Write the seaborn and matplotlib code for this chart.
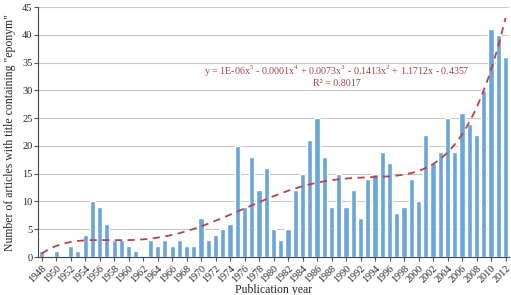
import numpy as np
import pandas as pd
import matplotlib
matplotlib.use("Agg")
import matplotlib.pyplot as plt
import seaborn as sns

years = list(range(1948, 2013))
counts = [1, 0, 1, 0, 2, 1, 4, 10, 9, 6, 3, 3, 2, 1, 0, 3, 2, 3, 2, 3, 2, 2,
          7, 3, 4, 5, 6, 20, 9, 18, 12, 16, 5, 3, 5, 12, 15, 21, 25, 18, 9,
          15, 9, 12, 7, 14, 15, 19, 17, 8, 9, 14, 10, 22, 17, 19, 25, 19,
          26, 24, 22, 30, 41, 40, 36]
eq_text = "y = 1E-06x$^5$ - 0.0001x$^4$ + 0.0073x$^3$ - 0.1413x$^2$ + 1.1712x - 0.4357"
r2_text = "R² = 0.8017"

sns.set_style("white")
plt.rcParams['font.family'] = ['Liberation Serif', 'DejaVu Serif']
plt.rcParams['mathtext.fontset'] = 'custom'
plt.rcParams['mathtext.rm'] = 'Liberation Serif'

df = pd.DataFrame({"year": [str(y) for y in years], "count": counts})

fig = plt.figure(figsize=(5.11, 2.95), dpi=100)
ax = fig.add_axes([0.0744, 0.1288, 0.922, 0.847])

sns.barplot(data=df, x="year", y="count", color="#6aa6d6", saturation=1,
            width=0.72, ax=ax, zorder=2)

# 5th-degree polynomial trendline fitted to the data
xi = np.arange(1, len(counts) + 1)
coef = np.polyfit(xi, counts, 5)
xs = np.linspace(1, len(counts), 300)
ax.plot(xs - 1, np.polyval(coef, xs), ls=(0, (4, 3)), color="#b8444a", lw=1.3, zorder=3)

ax.text(40.7, 33.4, eq_text, ha="center", va="center", fontsize=7.2, color="#a0414a")
ax.text(40.7, 31.3, r2_text, ha="center", va="center", fontsize=7.2, color="#a0414a")

ax.set_ylim(0, 45)
ax.set_xlim(-0.5, len(counts) - 0.5)
ax.set_yticks(range(0, 46, 5))
ax.yaxis.grid(True, color="#c8c8c8", lw=0.8, zorder=0)
ax.set_axisbelow(True)
ticks = list(range(0, len(years), 2))
ax.set_xticks(ticks)
ax.set_xticklabels([str(years[i]) for i in ticks], rotation=45, ha="right",
                   rotation_mode="anchor", fontsize=7.3)
ax.tick_params(axis="y", labelsize=7.5, length=3, direction="out", left=True, color="#555555", pad=1)
ax.tick_params(axis="x", length=3, direction="out", bottom=True, color="#555555", pad=2)
for s in ["top", "right"]:
    ax.spines[s].set_visible(False)
for s in ["left", "bottom"]:
    ax.spines[s].set_color("#444444")
    ax.spines[s].set_linewidth(0.8)

ax.set_ylabel('Number of articles with title containing "eponym"', fontsize=8.5, labelpad=4)
ax.set_xlabel("Publication year", fontsize=8.5)
ax.xaxis.set_label_coords(0.5, -0.108)

fig.savefig("out.png", dpi=100)
